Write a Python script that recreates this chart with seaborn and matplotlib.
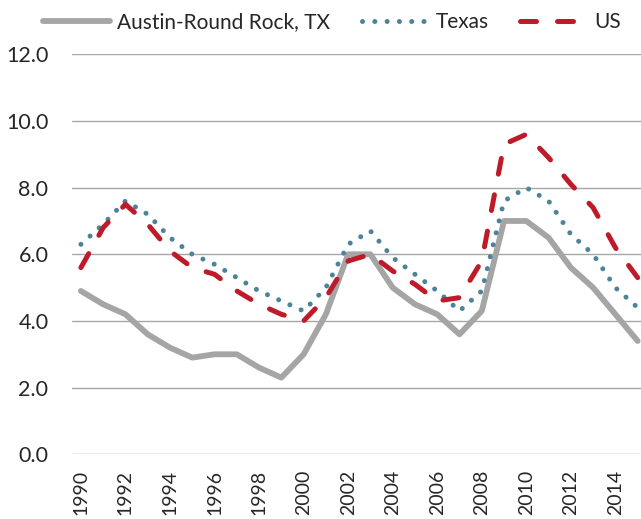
import numpy as np
import pandas as pd
import matplotlib
matplotlib.use("Agg")
import matplotlib.pyplot as plt
import seaborn as sns

# unemployment rate (%)
years = list(range(1990, 2016))
austin = [4.9, 4.5, 4.2, 3.6, 3.2, 2.9, 3.0, 3.0, 2.6, 2.3, 3.0, 4.2, 6.0, 6.0, 5.0, 4.5, 4.2, 3.6, 4.3, 7.0, 7.0, 6.5, 5.6, 5.0, 4.2, 3.4]
texas = [6.3, 6.9, 7.6, 7.2, 6.5, 6.0, 5.7, 5.3, 4.9, 4.6, 4.3, 5.0, 6.3, 6.7, 5.9, 5.4, 4.9, 4.3, 4.9, 7.6, 8.0, 7.6, 6.6, 6.0, 5.0, 4.4]
us = [5.6, 6.8, 7.5, 6.9, 6.1, 5.6, 5.4, 4.9, 4.5, 4.2, 4.0, 4.7, 5.8, 6.0, 5.5, 5.1, 4.6, 4.7, 5.8, 9.3, 9.6, 8.9, 8.1, 7.4, 6.2, 5.3]
series_names = ["Austin-Round Rock, TX", "Texas", "US"]
yticks = [0, 2, 4, 6, 8, 10, 12]

df = pd.DataFrame({"year": years, series_names[0]: austin,
                   series_names[1]: texas, series_names[2]: us})

sns.set_style("white")
plt.rcParams["font.family"] = ["Lato", "DejaVu Sans"]

fig = plt.figure(figsize=(6.41, 5.19), dpi=100)
ax = fig.add_axes([72 / 641, 1 - 454.3 / 519, 1 - 72 / 641, 400 / 519])

styles = {
    series_names[0]: dict(color="#A5A5A5", lw=4.2, ls="-", solid_capstyle="round"),
    series_names[1]: dict(color="#4E8397", lw=3.6, ls=(0, (0.01, 2.45)),
                          dash_capstyle="round"),
    series_names[2]: dict(color="#BE1A2A", lw=3.6, ls=(0, (3.2, 4.2)),
                          dash_capstyle="round"),
}
for name in series_names:
    st = styles[name]
    sns.lineplot(data=df, x="year", y=name, ax=ax, label=name,
                 color=st["color"], linewidth=st["lw"], linestyle=st["ls"],
                 **{k: v for k, v in st.items() if k not in ("color", "lw", "ls")})

ax.set_ylim(0, 12)
ax.set_xlim(1989.6, 2015.15)
ax.set_yticks(yticks)
ax.set_yticklabels([f"{v:.1f}" for v in yticks], fontsize=15.5)
ax.set_xticks(years[::2])
ax.set_xticklabels([str(y) for y in years[::2]], rotation=90, fontsize=14)
ax.tick_params(axis="y", length=0, pad=17)
ax.tick_params(axis="x", length=0, pad=11)
ax.yaxis.grid(True, color="#A6A6A6", lw=1.0)
ax.set_axisbelow(True)
for s in ax.spines.values():
    s.set_visible(False)
ax.set_xlabel("")
ax.set_ylabel("")

ax.legend(loc="center", bbox_to_anchor=(332 / 641, 1 - 22 / 519),
          bbox_transform=fig.transFigure, ncol=3, frameon=False,
          fontsize=15, handlelength=3.2, handletextpad=0.35,
          columnspacing=1.5, borderpad=0)

fig.savefig("out.png", dpi=100)
